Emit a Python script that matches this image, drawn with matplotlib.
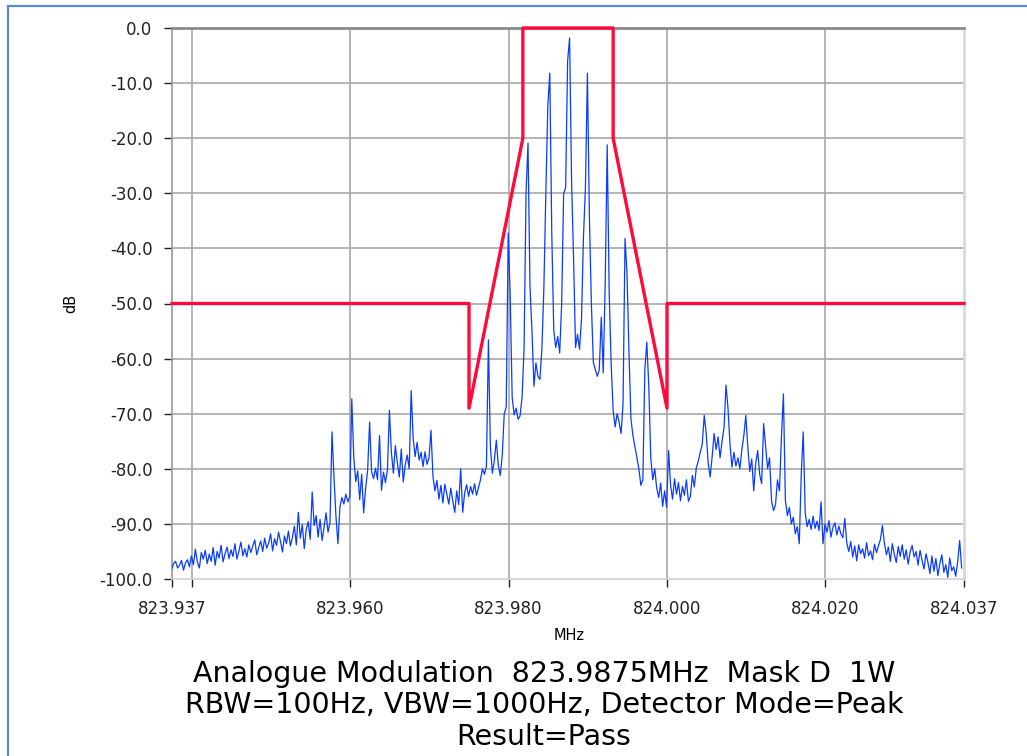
import numpy as np
import matplotlib
matplotlib.use("Agg")
import matplotlib.pyplot as plt
from matplotlib.patches import Rectangle

# span: centre 823.9875 MHz +/- 50 kHz
x_min = 823.9375
x_max = 824.0375

# sweep: 401 points
f_start = 823.9372
f_stop = 824.0372
n_points = 401

# measured trace (dB), one value per sweep point
trace_db = [
    -97.0, -98.3, -97.2, -96.8, -98.0, -97.5, -96.6, -98.4, -97.1, -96.5,
    -97.8, -95.8, -97.4, -94.6, -96.9, -98.0, -95.2, -96.4, -94.8, -97.2,
    -95.5, -96.8, -94.3, -97.5, -95.0, -96.2, -93.9, -96.9, -95.4, -94.2,
    -96.3, -94.7, -95.9, -93.6, -96.4, -94.9, -93.3, -95.8, -94.5, -96.0,
    -93.8, -95.2, -94.0, -92.9, -95.6, -94.3, -93.1, -95.0, -92.6, -94.4,
    -93.5, -91.8, -94.9, -92.7, -93.9, -91.5, -93.2, -95.1, -92.2, -93.6,
    -91.3, -94.0, -92.5, -90.4, -93.8, -87.9, -92.6, -90.1, -94.5, -91.0,
    -89.6, -92.8, -84.2, -90.3, -88.5, -92.4, -89.2, -93.0, -90.6, -88.0,
    -91.5, -89.7, -73.3, -81.5, -88.6, -93.6, -87.0, -85.2, -86.4, -84.6,
    -86.0, -85.0, -67.3, -77.9, -82.3, -80.4, -85.6, -81.0, -88.0, -83.5,
    -80.3, -71.5, -80.5, -81.8, -79.9, -82.0, -74.0, -83.9, -80.6, -82.5,
    -80.2, -69.4, -77.0, -80.8, -75.8, -78.9, -81.5, -76.4, -82.4, -79.3,
    -77.5, -80.0, -65.8, -74.5, -77.8, -75.2, -78.4, -77.0, -79.6, -76.9,
    -79.2, -78.0, -73.0, -81.4, -84.0, -82.1, -85.5, -83.0, -86.2, -82.8,
    -84.6, -86.4, -83.5, -85.8, -87.9, -84.0, -86.5, -80.0, -87.9, -84.4,
    -82.9, -85.0, -83.2, -84.6, -82.7, -84.8, -83.4, -82.0, -80.0, -81.0,
    -79.5, -56.6, -76.0, -80.8, -78.5, -74.8, -79.4, -81.2, -77.5, -70.0,
    -68.8, -37.2, -48.5, -67.0, -70.2, -69.0, -71.0, -70.4, -67.0, -58.3,
    -30.0, -20.9, -47.0, -55.0, -65.0, -60.8, -63.2, -63.8, -58.3, -47.4,
    -30.0, -14.2, -8.2, -37.2, -54.8, -58.0, -56.0, -59.0, -50.0, -30.0,
    -29.0, -6.0, -1.8, -27.8, -41.7, -58.0, -55.6, -58.3, -53.0, -38.0,
    -29.0, -8.2, -34.2, -50.0, -60.7, -62.0, -63.2, -62.0, -52.5, -62.6,
    -46.0, -21.2, -48.0, -61.0, -69.4, -72.4, -70.0, -71.5, -73.6, -68.2,
    -38.2, -44.5, -59.0, -71.0, -74.0, -76.0, -78.0, -80.0, -83.0, -82.0,
    -62.0, -57.0, -65.0, -78.0, -82.0, -80.0, -83.5, -85.2, -82.6, -86.8,
    -84.0, -87.0, -76.7, -83.0, -85.5, -81.8, -84.6, -82.5, -85.8, -83.2,
    -84.8, -82.0, -85.9, -85.0, -81.2, -83.3, -79.8, -78.6, -77.0, -75.5,
    -70.3, -73.6, -79.0, -81.5, -77.8, -73.6, -76.5, -74.2, -78.0, -75.0,
    -72.5, -64.8, -69.0, -75.5, -79.7, -77.0, -79.5, -78.0, -80.0, -76.5,
    -74.0, -70.3, -76.0, -80.5, -78.2, -84.0, -79.0, -76.7, -81.0, -82.7,
    -71.8, -76.0, -80.0, -78.0, -85.8, -87.6, -86.5, -82.0, -84.0, -74.2,
    -66.4, -85.8, -88.5, -87.0, -90.0, -88.8, -91.8, -90.5, -93.6, -81.0,
    -73.3, -88.0, -90.5, -89.2, -91.0, -88.6, -90.8, -89.5, -91.2, -86.0,
    -93.6, -90.0, -91.5, -89.4, -92.4, -90.6, -89.8, -92.0, -90.4, -91.8,
    -92.5, -89.0, -93.5, -95.0, -93.2, -96.0, -94.0, -96.7, -93.8, -95.4,
    -94.5, -96.2, -93.4, -95.8, -94.9, -96.5, -93.7, -95.2, -94.0, -92.8,
    -90.3, -93.5, -95.6, -94.2, -96.8, -93.6, -95.5, -97.0, -94.1, -95.9,
    -93.8, -96.4, -94.7, -97.3, -95.1, -93.9, -96.0, -95.0, -97.5, -94.8,
    -96.6, -98.2, -95.4, -97.0, -99.0, -95.8, -98.6, -96.3, -99.4, -97.2,
    -95.6, -98.8, -97.4, -99.7, -96.2, -98.5, -97.8, -99.5, -96.9, -93.0,
    -98.0,
]

# emission mask D
mask_freq = [823.9375, 823.975, 823.975, 823.9818, 823.9818,
             823.9932, 823.9932, 824.000, 824.000, 824.0375]
mask_db = [-50, -50, -69, -20, 0, 0, -20, -69, -50, -50]

x_ticks = [823.9375, 823.940, 823.960, 823.980, 824.000, 824.020, 824.0375]
x_labels = ["823.937", "", "823.960", "823.980", "824.000", "824.020", "824.037"]
y_ticks = [0, -10, -20, -30, -40, -50, -60, -70, -80, -90, -100]
y_labels = ["%.1f" % v for v in y_ticks]

title_lines = ["Analogue Modulation  823.9875MHz  Mask D  1W",
               "RBW=100Hz, VBW=1000Hz, Detector Mode=Peak",
               "Result=Pass"]


def main():
    plt.rcParams['font.family'] = ['DejaVu Sans']
    plt.rcParams['axes.unicode_minus'] = False

    fig = plt.figure(figsize=(10.27, 7.56), dpi=100)
    fig.patch.set_facecolor("white")

    # blue frame round the panel (right and bottom run off the picture)
    fig.patches.append(Rectangle((8 / 1027, -0.2), 1.3, 1.2 - 6 / 756,
                                 transform=fig.transFigure, fill=False,
                                 edgecolor="#5b8bd0", linewidth=1.6))

    ax = fig.add_axes([172 / 1027, 177 / 756, 792 / 1027, 551 / 756])

    freq = np.linspace(f_start, f_stop, n_points)
    ax.plot(freq, trace_db, color="#0a3cff", linewidth=0.9, zorder=3)
    ax.plot(mask_freq, mask_db, color="#ff0a3c", linewidth=2.4,
            zorder=4, clip_on=False)

    ax.set_xlim(x_min, x_max)
    ax.set_ylim(-100, 0)

    ax.set_xticks(x_ticks)
    ax.set_xticklabels(x_labels)
    ax.set_yticks(y_ticks)
    ax.set_yticklabels(y_labels)
    ax.tick_params(axis="both", labelsize=12, colors="#222222",
                   length=6, width=1)
    ax.tick_params(axis="y", pad=8)
    ax.tick_params(axis="x", pad=9)

    # grid only on the inner lines
    for v in x_ticks[1:-1]:
        ax.axvline(v, color="#a8a8a8", linewidth=1.2, zorder=1)
    for v in y_ticks[1:-1]:
        ax.axhline(v, color="#a8a8a8", linewidth=1.2, zorder=1)

    ax.spines["left"].set_color("#9a9a9a")
    ax.spines["left"].set_linewidth(1.2)
    ax.spines["top"].set_color("#8a8a8a")
    ax.spines["top"].set_linewidth(2)
    ax.spines["right"].set_color("#d8d8d8")
    ax.spines["right"].set_linewidth(2)
    ax.spines["bottom"].set_color("#d0d0d0")
    ax.spines["bottom"].set_linewidth(1.2)

    ax.set_ylabel("dB", fontsize=10.5, labelpad=15)
    fig.text(569 / 1027, 1 - 636 / 756, "MHz", fontsize=10.5,
             ha="center", va="center")

    y_pos = [674, 705, 737]
    for line, y in zip(title_lines, y_pos):
        fig.text(544 / 1027, 1 - y / 756, line, fontsize=20.5,
                 ha="center", va="center", color="black")

    fig.savefig("out.png", dpi=100)


if __name__ == "__main__":
    main()
